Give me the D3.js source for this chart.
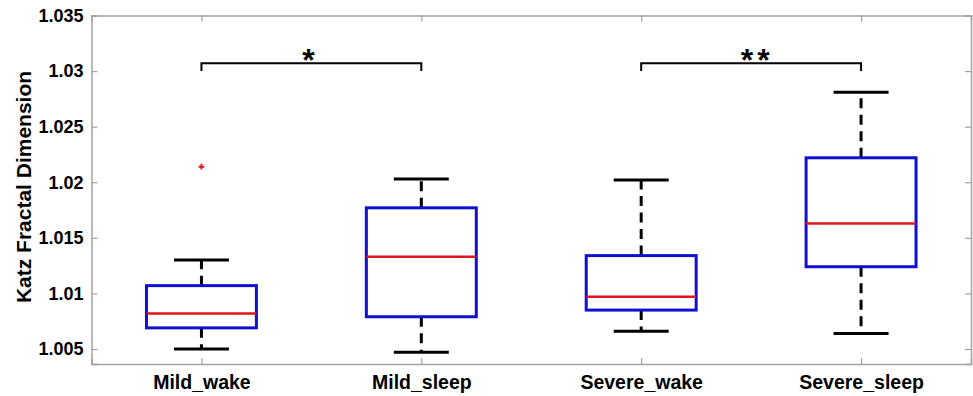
<!DOCTYPE html>
<html>
<head>
<meta charset="utf-8">
<script src="https://cdn.jsdelivr.net/npm/d3@7"></script>
<style>
  body { margin: 0; background: #fff; }
  text { font-family: "Liberation Sans", Arial, sans-serif; }
</style>
</head>
<body>
<script>
let width = 973,
    height = 396;

let groups = ["Mild_wake", "Mild_sleep", "Severe_wake", "Severe_sleep"];
let lowerWhisker = [1.0050, 1.0047, 1.0066, 1.0064];
let q1 = [1.0069, 1.0079, 1.0085, 1.0124];
let medians = [1.0082, 1.0133, 1.0097, 1.0163];
let q3 = [1.0107, 1.0177, 1.0134, 1.0222];
let upperWhisker = [1.0130, 1.0203, 1.0202, 1.0281];
let outlierGroups = ["Mild_wake"];
let outlierValues = [1.0214];
let yTicks = [1.005, 1.01, 1.015, 1.02, 1.025, 1.03, 1.035];
let bracketFrom = ["Mild_wake", "Severe_wake"];
let bracketTo = ["Mild_sleep", "Severe_sleep"];
let bracketTop = [1.0307, 1.0307];
let bracketBottom = [1.0300, 1.0300];
let bracketLabels = ["*", "**"];

let margin = {left: 91.5, right: 2, top: 15.5, bottom: 32};

let svg = d3.select("body").append("svg")
    .attr("width", width)
    .attr("height", height);

let x = d3.scalePoint()
    .domain(groups)
    .range([margin.left, width - margin.right])
    .padding(0.5);

let y = d3.scaleLinear()
    .domain([1.00365, 1.035])
    .range([height - margin.bottom, margin.top]);

let step = x.step();
let boxW = step * 0.5,
    capW = step * 0.25;

let data = groups.map((g, i) => ({
    name: g, lo: lowerWhisker[i], q1: q1[i], med: medians[i], q3: q3[i], hi: upperWhisker[i]
}));

let frameColor = "#a3a3a3";

// axes (MATLAB style: inward ticks, box on)
let yAxis = svg.append("g")
    .attr("transform", `translate(${margin.left},0)`)
    .call(d3.axisLeft(y).tickValues(yTicks).tickSize(-6).tickPadding(8)
        .tickFormat(d => String(+d.toFixed(3))));

let yAxisR = svg.append("g")
    .attr("transform", `translate(${width - margin.right},0)`)
    .call(d3.axisRight(y).tickValues(yTicks).tickSize(-6).tickFormat(""));

let xAxis = svg.append("g")
    .attr("transform", `translate(0,${height - margin.bottom})`)
    .call(d3.axisBottom(x).tickSize(-6).tickPadding(11));

let xAxisT = svg.append("g")
    .attr("transform", `translate(0,${margin.top})`)
    .call(d3.axisTop(x).tickSize(-6).tickFormat(""));

[yAxis, yAxisR, xAxis, xAxisT].forEach(a => {
    a.select(".domain").attr("stroke", frameColor).attr("stroke-width", 1.5);
    a.selectAll(".tick line").attr("stroke", frameColor).attr("stroke-width", 1.2);
});

yAxis.selectAll("text")
    .attr("font-size", 18)
    .attr("font-weight", "bold")
    .attr("fill", "#000");

xAxis.selectAll("text")
    .attr("font-size", 19.5)
    .attr("font-weight", "bold")
    .attr("fill", "#000");

svg.append("text")
    .attr("transform", `translate(31,187) rotate(-90)`)
    .attr("text-anchor", "middle")
    .attr("font-size", 21)
    .attr("font-weight", "bold")
    .attr("fill", "#000")
    .text("Katz Fractal Dimension");

// boxes
let box = svg.selectAll(".box")
    .data(data)
    .enter().append("g")
    .attr("class", "box");

box.append("line")
    .attr("x1", d => x(d.name)).attr("x2", d => x(d.name))
    .attr("y1", d => y(d.q3)).attr("y2", d => y(d.hi))
    .attr("stroke", "#000")
    .attr("stroke-width", 3)
    .attr("stroke-dasharray", "10,6.5");

box.append("line")
    .attr("x1", d => x(d.name)).attr("x2", d => x(d.name))
    .attr("y1", d => y(d.q1)).attr("y2", d => y(d.lo))
    .attr("stroke", "#000")
    .attr("stroke-width", 3)
    .attr("stroke-dasharray", "10,6.5");

box.selectAll(".cap")
    .data(d => [{name: d.name, v: d.hi}, {name: d.name, v: d.lo}])
    .enter().append("line")
    .attr("class", "cap")
    .attr("x1", d => x(d.name) - capW / 2)
    .attr("x2", d => x(d.name) + capW / 2)
    .attr("y1", d => y(d.v)).attr("y2", d => y(d.v))
    .attr("stroke", "#000")
    .attr("stroke-width", 3);

box.append("rect")
    .attr("x", d => x(d.name) - boxW / 2)
    .attr("width", boxW)
    .attr("y", d => y(d.q3))
    .attr("height", d => y(d.q1) - y(d.q3))
    .attr("fill", "#fff")
    .attr("stroke", "#1010d0")
    .attr("stroke-width", 3);

box.append("line")
    .attr("x1", d => x(d.name) - boxW / 2)
    .attr("x2", d => x(d.name) + boxW / 2)
    .attr("y1", d => y(d.med)).attr("y2", d => y(d.med))
    .attr("stroke", "#e0141c")
    .attr("stroke-width", 2.5);

// outliers
svg.selectAll(".outlier")
    .data(outlierValues)
    .enter().append("path")
    .attr("class", "outlier")
    .attr("d", d3.symbol(d3.symbolCross, 18))
    .attr("transform", (d, i) => `translate(${x(outlierGroups[i])},${y(d)})`)
    .attr("fill", "#e0141c");

// significance brackets
let br = svg.selectAll(".bracket")
    .data(bracketLabels)
    .enter().append("g")
    .attr("class", "bracket");

br.append("path")
    .attr("d", (d, i) => {
        let x1 = x(bracketFrom[i]), x2 = x(bracketTo[i]);
        let yt = y(bracketTop[i]), yb = y(bracketBottom[i]);
        return `M${x1},${yb}V${yt}H${x2}V${yb}`;
    })
    .attr("fill", "none")
    .attr("stroke", "#000")
    .attr("stroke-width", 2);

br.append("text")
    .attr("x", (d, i) => (x(bracketFrom[i]) + x(bracketTo[i])) / 2 + (d.length > 1 ? 6 : -3))
    .attr("y", (d, i) => y(bracketTop[i]) + 8)
    .attr("text-anchor", "middle")
    .attr("font-size", 32)
    .attr("font-weight", "bold")
    .attr("letter-spacing", (d, i) => d.length > 1 ? 4 : 0)
    .attr("fill", "#000")
    .text(d => d);
</script>
</body>
</html>
